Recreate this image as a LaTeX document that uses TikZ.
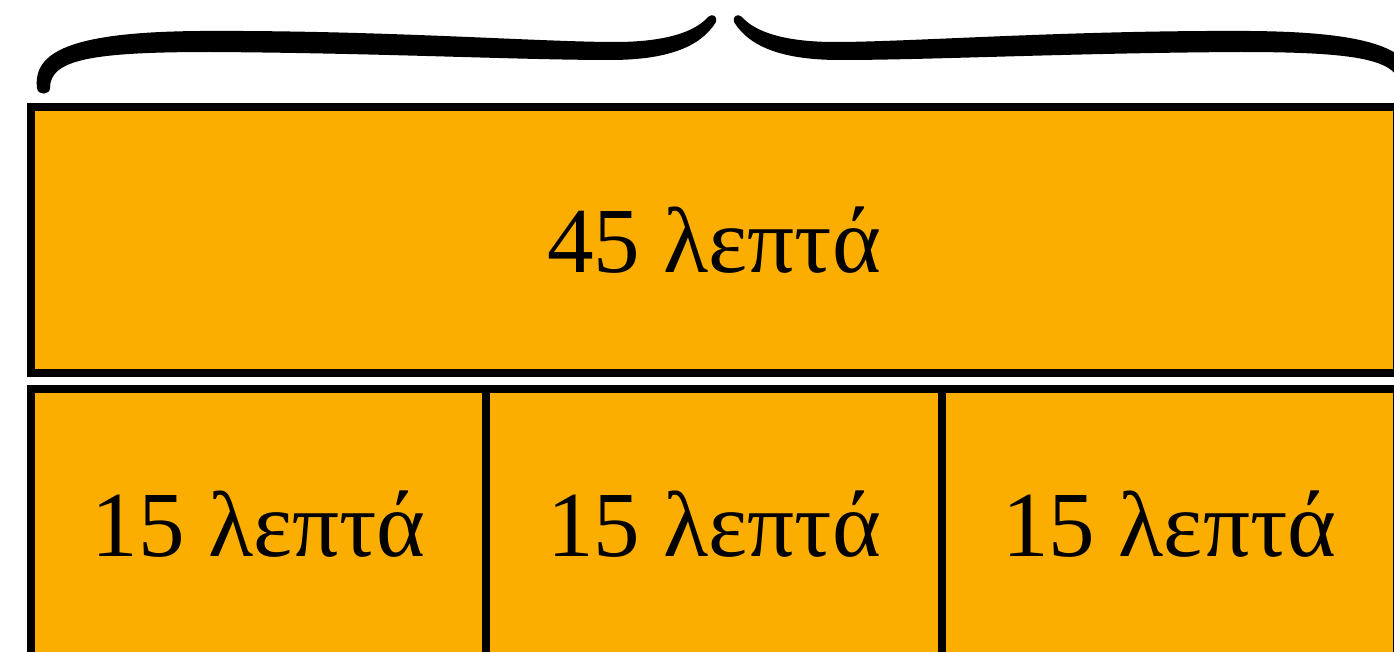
\documentclass[tikz,border=0pt]{standalone}
\usepackage{fontspec}
\setmainfont{Liberation Serif}
\usepackage{xcolor}
\usepackage{tikz}
\usetikzlibrary{positioning}

\definecolor{slotfill}{RGB}{252,174,0}

% one half of the curly brace, drawn as a filled outline
\newcommand{\bracearm}{%
  (37,88) .. controls (33,52) and (70,32) .. (200,31)
  .. controls (380,30) and (540,42) .. (615,42)
  .. controls (665,42) and (695,32) .. (708,17)
  .. controls (712,13) and (718,16) .. (716,22)
  .. controls (700,48) and (665,60) .. (610,60)
  .. controls (520,60) and (380,53) .. (210,52)
  .. controls (90,52) and (50,60) .. (50,88)
  .. controls (50,95) and (38,96) .. (37,88) -- cycle}

\begin{document}
\begin{tikzpicture}[
        x=0.02cm, y=-0.02cm,
        box/.style={rectangle, draw=black, line width=0.16cm, fill=slotfill,
                    outer sep=0pt, inner sep=0pt, text centered,
                    font=\fontsize{53}{64}\selectfont},
        whole/.style={box, minimum width=27.32cm, minimum height=5.32cm},
        part/.style={box, minimum width=9.107cm, minimum height=5.40cm}
    ]
        \useasboundingbox (0,0) rectangle (1394,652);
        \node[whole] (total) at (714,240) {45 λεπτά};
        \node[part, below=0.32cm of total.south west, anchor=north west] (qa) {15 λεπτά};
        \node[part, right=0pt of qa] (qb) {15 λεπτά};
        \node[part, right=0pt of qb] (qc) {15 λεπτά};
        % brace over the whole bar
        \fill[black] \bracearm;
        \begin{scope}[shift={(1450,0)}, xscale=-1]
            \fill[black] \bracearm;
        \end{scope}
    \end{tikzpicture}
\end{document}
